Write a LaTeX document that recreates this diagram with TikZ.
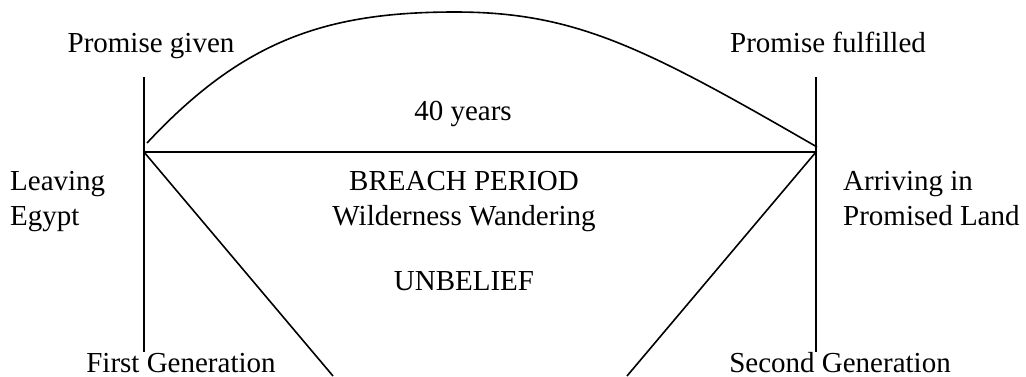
\documentclass[tikz,border=0pt]{standalone}
\usepackage{fontspec}
\setmainfont{Liberation Serif}
\begin{document}
\begin{tikzpicture}[x=1pt,y=-1pt,
  ln/.style={line width=1.6pt, line cap=butt},
  lbl/.style={inner sep=0pt, anchor=base, font=\fontsize{29}{34}\selectfont},
  lblw/.style={lbl, anchor=base west}]
\useasboundingbox[fill=white] (0,0) rectangle (1026,376);
% key points
\coordinate (LT) at (144,77);
\coordinate (LJ) at (144,152);
\coordinate (LB) at (144,352);
\coordinate (RT) at (816,77);
\coordinate (RJ) at (816,152);
\coordinate (RB) at (816,352);
\coordinate (LD) at (333,376);
\coordinate (RD) at (627,376);
\coordinate (AS) at (147,143);
\coordinate (AP) at (455,12);
\coordinate (AE) at (817,147);
% lines
\draw[ln] (LT) -- (LB);
\draw[ln] (RT) -- (RB);
\draw[ln] (LJ) -- (RJ);
\draw[ln] (LJ) -- (LD);
\draw[ln] (RJ) -- (RD);
\draw[ln] (AS) .. controls (242.5,40.7) and (325,12) .. (AP)
               .. controls (575,12) and (644,47) .. (AE);
% labels
\node[lbl] (pg) at (151,52) {Promise given};
\node[lbl] (pf) at (828,52) {Promise fulfilled};
\node[lbl] (fy) at (463,120) {40 years};
\node[lblw] (le1) at (10,190) {Leaving};
\node[lblw] (le2) at (10,225) {Egypt};
\node[lbl] (bp) at (464,190) {BREACH PERIOD};
\node[lbl] (ww) at (464,225) {Wilderness Wandering};
\node[lbl] (ub) at (464,290) {UNBELIEF};
\node[lblw] (ar1) at (843,190) {Arriving in};
\node[lblw] (ar2) at (843,225) {Promised Land};
\node[lbl] (fg) at (181,372) {First Generation};
\node[lbl] (sg) at (840,372) {Second Generation};
\end{tikzpicture}
\end{document}
